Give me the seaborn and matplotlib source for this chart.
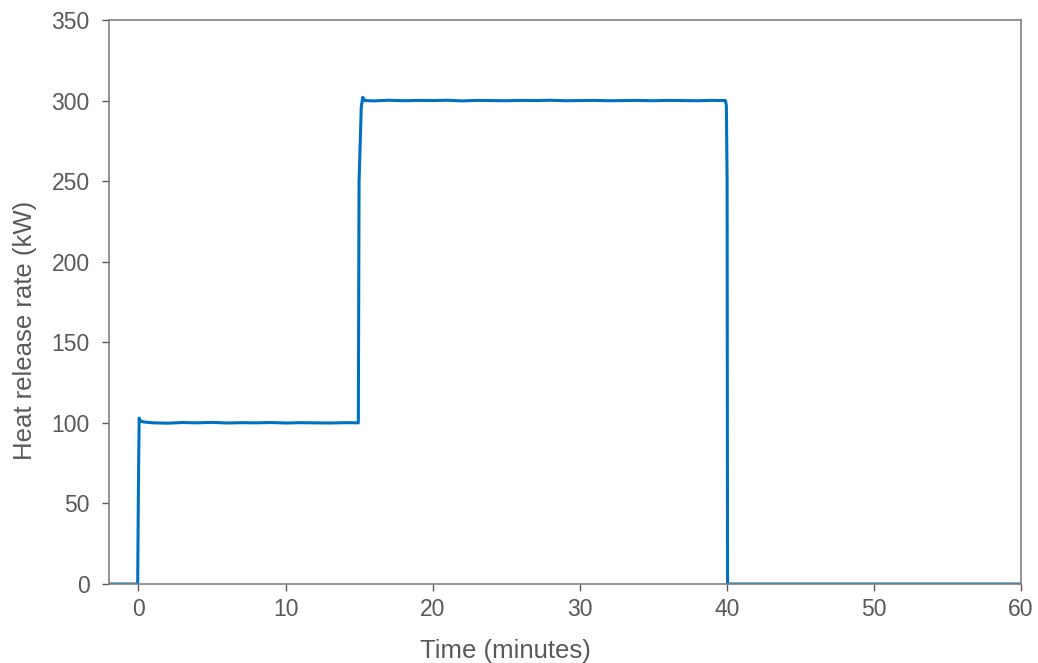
import matplotlib
matplotlib.use("Agg")
import matplotlib.pyplot as plt
import seaborn as sns
import pandas as pd

# Time (minutes) and heat release rate (kW)
time_min = [-2.0, -0.05, 0.0, 0.05, 0.15, 0.4, 1.0, 2.0, 3.0, 4.0, 5.0, 6.0, 7.0,
            8.0, 9.0, 10.0, 11.0, 12.0, 13.0, 14.0, 14.95, 15.0, 15.15, 15.25, 15.4,
            16.0, 17.0, 18.0, 19.0, 20.0, 21.0, 22.0, 23.0, 24.0, 25.0, 26.0, 27.0,
            28.0, 29.0, 30.0, 31.0, 32.0, 33.0, 34.0, 35.0, 36.0, 37.0, 38.0, 39.0,
            39.9, 39.97, 40.02, 40.05, 41.0, 50.0, 60.0]
hrr_kw = [0.0, 0.0, 60.0, 103.0, 101.0, 100.5, 100.0, 99.8, 100.2, 100.0, 100.3, 99.9,
          100.1, 100.0, 100.2, 99.9, 100.1, 100.0, 99.9, 100.1, 100.0, 250.0, 296.0,
          302.0, 300.0, 299.8, 300.2, 299.9, 300.1, 300.0, 300.2, 299.8, 300.1, 300.0,
          299.9, 300.1, 300.0, 300.2, 299.9, 300.0, 300.1, 299.9, 300.0, 300.1, 299.9,
          300.1, 300.0, 299.9, 300.1, 300.0, 297.0, 250.0, 0.0, 0.0, 0.0, 0.0]

x_ticks = [0, 10, 20, 30, 40, 50, 60]
y_ticks = [0, 50, 100, 150, 200, 250, 300, 350]

sns.set_theme(style="white")
plt.rcParams["font.family"] = ["Liberation Sans", "DejaVu Sans"]

df = pd.DataFrame({"Time (minutes)": time_min, "Heat release rate (kW)": hrr_kw})

fig = plt.figure(figsize=(10.38, 6.63), dpi=100)
ax = fig.add_axes([109 / 1038, 1 - 584 / 663, (1021 - 109) / 1038, (584 - 20) / 663])

sns.lineplot(data=df, x="Time (minutes)", y="Heat release rate (kW)", ax=ax,
             color="#0070C0", linewidth=2.2, sort=False)

ax.set_xlim(-2, 60)
ax.set_ylim(0, 350)
ax.set_xticks(x_ticks)
ax.set_yticks(y_ticks)

text_color = "#595959"
ax.tick_params(axis="both", which="major", direction="out", length=5, width=1,
               color="#595959", labelcolor=text_color, labelsize=16.5,
               bottom=True, left=True, top=False, right=False)
ax.tick_params(axis="x", pad=5)
ax.tick_params(axis="y", pad=9)
ax.set_xlabel("Time (minutes)", fontsize=18.5, color=text_color, labelpad=13)
ax.set_ylabel("Heat release rate (kW)", fontsize=18.5, color=text_color, labelpad=10)
ax.xaxis.label.set_x(0.435)
ax.yaxis.label.set_y(0.45)

for s in ax.spines.values():
    s.set_visible(True)
    s.set_color("#808080")
    s.set_linewidth(1.2)

fig.savefig("out.png", dpi=100)
